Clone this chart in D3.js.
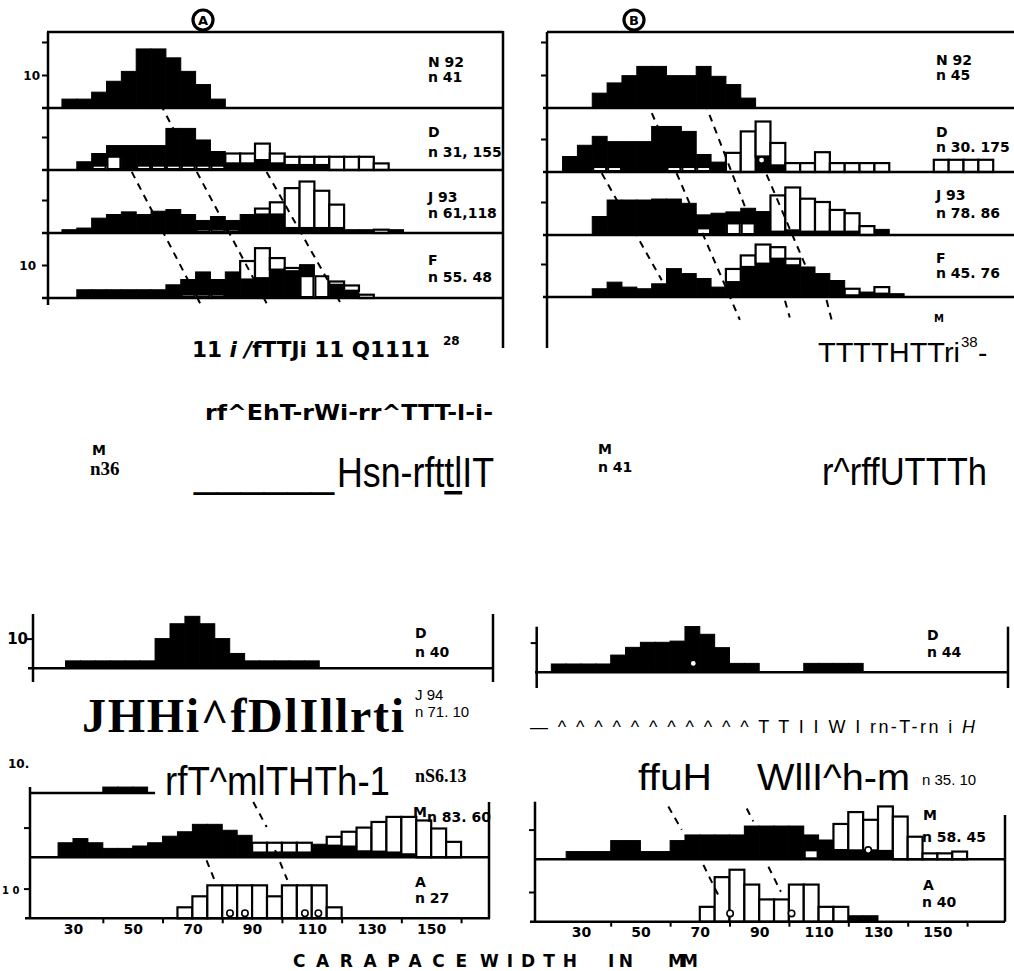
<!DOCTYPE html>
<html>
<head>
<meta charset="utf-8">
<title>Carapace width frequencies</title>
<script src="https://cdn.jsdelivr.net/npm/d3@7"></script>
<style>
  body { margin:0; background:#fff; }
  svg { display:block; }
  text { fill:#000; }
  .axis path { display:none; }
  .axis line { stroke:#000; stroke-width:2; }
  .axis text { font-family:"DejaVu Sans", "Liberation Sans", Arial, sans-serif; font-weight:bold; font-size:14px; fill:#000; }
</style>
</head>
<body>
<svg id="fig" width="1014" height="971"></svg>
<script>
// size classes, lower edge in mm (5 mm classes)
var binsTopA = [20,25,30,35,40,45,50,55,60,65,70,75,80,85,90,95,100,105,110,115,120,125,130];
var binsTopB = [20,25,30,35,40,45,50,55,60,65,70,75,80,85,90,95,100,105,110,115,120,125,130,135,140,145,150,155,160];
var binsBotA = [25,30,35,40,45,50,55,60,65,70,75,80,85,90,95,100,105,110,115,120,125,130,135,140,145,150,155];
var binsBotAD = [27.5,32.5,37.5,42.5,47.5,52.5,57.5,62.5,67.5,72.5,77.5,82.5,87.5,92.5,97.5,102.5,107.5];
var binsBotB = [20,25,30,35,40,45,50,55,60,65,70,75,80,85,90,95,100,105,110,115,120,125,130,135,140,145,150,155];

// percent of sample per class: black = older class, white = new class
// "under" = white part drawn below the black part
var topA_N92_black = [2.7,2.7,4.8,8.1,11.1,17.9,17.9,15.2,11.1,7.1,2.7,0,0,0,0,0,0,0,0,0,0,0,0];
var topA_D_under = [0,0,1.3,4,0,1.3,1.3,1.3,1.3,1.3,1.3,0,0,0,0,0,0,0,0,0,0,0,0];
var topA_D_black = [0,2.5,3.7,3.4,7.4,6.1,6.1,11.3,11.3,7.8,4.3,2,2,3,2,1.5,1.5,1.5,0,0,0,0,0];
var topA_D_white = [0,0,0,0,0,0,0,0,0,0,0,3,3,5,3,2.5,2.5,2.5,4,4,4,2,0];
var topA_J93_under = [0,0,0,0,0,0,0,0,0,1,1,1,0,0,0,0,0,0,0,0,0,0,0];
var topA_J93_black = [1,1.5,4.5,5.6,6.4,5.6,6.6,7.1,5.6,2.8,4,2.8,5.6,5.6,5.6,1.5,1.5,1.5,1.5,1,1,0,1];
var topA_J93_white = [0,0,0,0,0,0,0,0,0,0,0,0,0,1.8,3.7,12.1,14.1,11.3,7.1,0,0,1,0];
var topA_F_under = [0,0,0,0,0,0,0,0,1,1,1,0,0,0,0,0,6.6,6.6,0,0,0,0,0];
var topA_F_black = [0,2.5,2.5,2.5,2.5,2.5,2.5,4,4.6,6.9,4.6,7.9,5.6,6,8.6,8.1,3.5,0,4,2.2,0,0,0];
var topA_F_white = [0,0,0,0,0,0,0,0,0,0,0,0,5.6,9.1,3.5,1,0,0,1,1.6,1,0,0];

var topB_N92_black = [0,0,4.5,7.6,9.8,12.6,12.6,9.8,9.8,12.6,9.6,7.1,3,0,0,0,0,0,0,0,0,0,0,0,0,0,0,0,0];
var topB_D_under = [0,0,1.5,1.5,0,0,0,1.5,1.5,1.5,0,0,0,0,0,0,0,0,0,0,0,0,0,0,0,0,0,0,0];
var topB_D_black = [4.7,8.1,9.3,7.7,9.2,9.2,13.8,12.3,10.8,3.8,3,0,0,4.7,2,0,0,0,0,0,0,0,0,0,0,0,0,0,0];
var topB_D_white = [0,0,0,0,0,0,0,0,0,0,0,5.8,12.3,10.6,6.8,2.7,2.7,6,2.7,2.7,2.7,2.7,0,0,0,3.7,3.7,3.7,3.7];
var topB_J93_under = [0,0,0,0,0,0,0,0,0,2,0,3.5,3.5,0,0,0,0,0,0,0,0,0,0,0,0,0,0,0,0];
var topB_J93_black = [0,0,5.6,10.6,10.6,10.6,10.9,10.9,9.6,4.1,6.6,3.5,4.6,7.1,1,1.4,1,1,1,1,0,1.7,0,0,0,0,0,0,0];
var topB_J93_white = [0,0,0,0,0,0,0,0,0,0,0,0,0,0,11,13,10,9,6.6,5.6,2.7,0,0,0,0,0,0,0,0];
var topB_F_black = [0,0,2.5,4.5,3,2.5,4,8.6,7.1,5.6,3,4.5,9.1,10.1,11.6,9.6,9.1,7.1,5,0.5,1.5,1,1,0,0,0,0,0,0];
var topB_F_white = [0,0,0,0,0,0,0,0,0,0,0,4,3.5,5.8,3.5,2,0,0,0,2,0,2,0,0,0,0,0,0,0];

var botA_D_black = [2.5,2.5,2.5,2.5,2.5,2.5,10,15,17.5,15,10,5,2.5,2.5,2.5,2.5,2.5];
var botA_F_black = [0,0,0,2,2,2,0,0,0,0,0,0,0,0,0,0,0,0,0,0,0,0,0,0,0,0,0];
var botA_M_black = [4.9,6.3,4.9,3,3,3.8,4.9,7.1,8.6,11.1,11.1,9.1,7.4,1.6,1.6,1.6,1.6,4.4,3.9,3.6,2,1.9,1.6,1,0,0,0];
var botA_M_white = [0,0,0,0,0,0,0,0,0,0,0,0,0,3.3,3.3,3.3,3.3,0,3,5,8,10,12,12.6,12.4,9.7,5.2];
var botA_A_white = [0,0,0,0,0,0,0,0,3.7,7.4,11.1,11.1,11.1,11.1,7.4,11.1,11.1,11.1,3.7,0,0,0,0,0,0,0,0];

var botB_D_black = [2.8,2.8,2.8,2.8,5.8,8.4,10.1,10.1,10.5,15.4,12.8,8.3,3,3,0,0,0,3,3,3,3,0,0,0,0,0,0,0];
var botB_M_under = [0,0,0,0,0,0,0,0,0,0,0,0,0,0,0,0,0,3,0,0,0,0,0,0,0,0,0,0];
var botB_M_black = [0,2.6,2.6,2.6,6.3,6.3,2.6,2.6,6.3,8.2,8.2,8.2,8.2,11.2,11.2,11.2,11.2,5.2,6.5,3.1,3,3,2.8,0,0,0,0,0];
var botB_M_white = [0,0,0,0,0,0,0,0,0,0,0,0,0,0,0,0,0,0,0,8.8,12.9,10.3,15,14.4,7.6,2,2,2.6];
var botB_A_black = [0,0,0,0,0,0,0,0,0,0,0,0,0,0,0,0,0,0,0,0,2,2,0,0,0,0,0,0];
var botB_A_white = [0,0,0,0,0,0,0,0,0,0,5,15,17.5,12.5,7.5,7.5,12.5,12.5,5,5,0,0,0,0,0,0,0,0];

// small rings [mm, percent]
var ringsTopBD = [[87,3.6]];
var ringsBotBD = [[67.8,3]];
var ringsBotAA = [[82.6,1.7],[87.6,1.7],[107.7,1.7],[112.2,1.7]];
var ringsBotBM = [[126.7,3.1]];
var ringsBotBA = [[80.2,2.8],[100.9,2.8]];

// dashed cohort lines [mm1, row1, mm2, row2] (row = panel index from top)
var dashTopA = [[53.2,0.95,58.0,1.38],[43.5,2.03,66.5,4.08],[65.4,2.03,88.9,4.08],[88.9,2.03,113.6,4.06]];
var dashTopB = [[48.3,0.91,52.2,1.31],[67.9,0.93,81.4,2.55],[33.2,2.02,53.4,3.73],[58.4,2.02,79.7,4.37],[88.7,2.04,102.2,3.54],[94.9,4.06,96.5,4.33],[108.9,4.05,110.6,4.37]];
var dashBotA = [[90.4,0.14,94.9,0.53],[73.1,0.86,77.9,1.43],[97.7,0.89,101.8,1.37]];
var dashBotB = [[59.4,0.18,63.9,0.54],[85.8,0.21,88,0.41],[71.2,1.09,76.8,1.63],[93.1,1.12,97.3,1.52]];

// labels
var labTopA = ["N 92","n 41","D","n 31, 155","J 93","n 61,118","F","n 55. 48"];
var labTopB = ["N 92","n 45","D","n 30. 175","J 93","n 78. 86","F","n 45. 76"];
var labBotA = ["D","n 40","M","n 83. 60","A","n 27"];
var labBotB = ["D","n 44","M","n 58. 45","A","n 40"];
var xTickLabels = [30,50,70,90,110,130,150];
var xTickMarks = [40,60,80,100,120,140,160];
var axisWords = ["CARAPACE","WIDTH","IN","MM"];

var svg = d3.select("#fig");
var sans = '"Liberation Sans", Arial, sans-serif';
var narrow = '"Liberation Sans Narrow", "Liberation Sans", Arial, sans-serif';
var heavy = '"DejaVu Sans", "Liberation Sans", Arial, sans-serif';
var serif = '"Liberation Serif", "Times New Roman", serif';

function hline(g, x1, x2, y, w){
  g.append("line").attr("x1",x1).attr("x2",x2).attr("y1",y).attr("y2",y)
    .attr("stroke","#000").attr("stroke-width",w||2.5);
}
function vline(g, x, y1, y2, w){
  g.append("line").attr("x1",x).attr("x2",x).attr("y1",y1).attr("y2",y2)
    .attr("stroke","#000").attr("stroke-width",w||2.5);
}

function hist(g, x, bins, base, k, under, black, white){
  var y = d3.scaleLinear().domain([0,10]).range([base, base-10*k]);
  var rows = bins.map(function(b,i){
    return {x0:b, x1:b+5, u:under?under[i]:0, b:black?black[i]:0, w:white?white[i]:0};
  });
  g.selectAll(null).data(rows.filter(function(d){return d.b>0;})).enter().append("rect")
    .attr("x",function(d){return x(d.x0);})
    .attr("width",function(d){return x(d.x1)-x(d.x0);})
    .attr("y",function(d){return y(d.u+d.b);})
    .attr("height",function(d){return y(d.u)-y(d.u+d.b);})
    .attr("fill","#000").attr("stroke","#000").attr("stroke-width",1);
  g.selectAll(null).data(rows.filter(function(d){return d.u>0;})).enter().append("rect")
    .attr("x",function(d){return x(d.x0)+1;})
    .attr("width",function(d){return x(d.x1)-x(d.x0)-2;})
    .attr("y",function(d){return y(d.u);})
    .attr("height",function(d){return y(0)-y(d.u)-1;})
    .attr("fill","#fff").attr("stroke","#000").attr("stroke-width",2);
  g.selectAll(null).data(rows.filter(function(d){return d.w>0;})).enter().append("rect")
    .attr("x",function(d){return x(d.x0);})
    .attr("width",function(d){return x(d.x1)-x(d.x0);})
    .attr("y",function(d){return y(d.u+d.b+d.w);})
    .attr("height",function(d){return y(d.u+d.b)-y(d.u+d.b+d.w);})
    .attr("fill","#fff").attr("stroke","#000").attr("stroke-width",2.2);
  return y;
}

function rings(g, x, y, pts){
  g.selectAll(null).data(pts).enter().append("circle")
    .attr("cx",function(d){return x(d[0]);})
    .attr("cy",function(d){return y(d[1]);})
    .attr("r",3.2).attr("fill","#fff").attr("stroke","#000").attr("stroke-width",1.6);
}

function dashes(g, x, row, segs){
  g.selectAll(null).data(segs).enter().append("line")
    .attr("x1",function(d){return x(d[0]);}).attr("y1",function(d){return row(d[1]);})
    .attr("x2",function(d){return x(d[2]);}).attr("y2",function(d){return row(d[3]);})
    .attr("stroke","#000").attr("stroke-width",2).attr("stroke-dasharray","7,6");
}

function yTick(g, y, xLeft, vals){
  g.append("g").attr("class","axis").attr("transform","translate("+xLeft+",0)")
    .call(d3.axisLeft(y).tickValues(vals).tickSize(6).tickFormat(""));
}

function txt(x, y, s, size, opts){
  opts = opts || {};
  var t = svg.append("text").attr("x",x).attr("y",y)
    .attr("font-family",opts.family||sans).attr("font-size",size)
    .attr("font-weight",opts.weight||"normal").text(s);
  if(opts.len){ t.attr("textLength",opts.len).attr("lengthAdjust",opts.adj||"spacing"); }
  if(opts.italic){ t.attr("font-style","italic"); }
  return t;
}
function lab(x, y, s){ return txt(x, y, s, 14, {weight:"bold", family:heavy}); }

// ---------- block A, top (Nov 92 - Feb 93) ----------
var gTA = svg.append("g");
var xTA = d3.scaleLinear().domain([15.3,168.5]).range([48,503]);
var baseTA = [108,170,233,298];
var kTop = 3.3;
var yTA = [
  hist(gTA, xTA, binsTopA, baseTA[0], kTop, null, topA_N92_black, null),
  hist(gTA, xTA, binsTopA, baseTA[1], kTop, topA_D_under, topA_D_black, topA_D_white),
  hist(gTA, xTA, binsTopA, baseTA[2], kTop, topA_J93_under, topA_J93_black, topA_J93_white),
  hist(gTA, xTA, binsTopA, baseTA[3], kTop, topA_F_under, topA_F_black, topA_F_white)
];
hline(gTA, 47, 503, 32);
baseTA.forEach(function(b){ hline(gTA, 42, 503, b); });
vline(gTA, 48, 32, 305);
vline(gTA, 503, 31, 348);
yTick(gTA, yTA[0], 48, [10,20]);
yTick(gTA, yTA[1], 48, [10]);
yTick(gTA, yTA[2], 48, [10]);
yTick(gTA, yTA[3], 48, [10]);
txt(40, yTA[0](10)+5, "10", 12, {weight:"bold", family:heavy}).attr("text-anchor","end");
txt(36, yTA[3](10)+5, "10", 12, {weight:"bold", family:heavy}).attr("text-anchor","end");
dashes(gTA, xTA, d3.scaleLinear().domain([0,1,2,3,4]).range([32,108,170,233,298]), dashTopA);
var labYTop = [67,82,137,157,202,218,265,282];
labTopA.forEach(function(s,i){ lab(428, labYTop[i], s); });

// ---------- block B, top ----------
var gTB = svg.append("g");
var xTB = d3.scaleLinear().domain([15.2,172]).range([548.3,1014]);
var baseTB = [108,172,235,297];
var yTB = [
  hist(gTB, xTB, binsTopB, baseTB[0], kTop, null, topB_N92_black, null),
  hist(gTB, xTB, binsTopB, baseTB[1], kTop, topB_D_under, topB_D_black, topB_D_white),
  hist(gTB, xTB, binsTopB, baseTB[2], kTop, topB_J93_under, topB_J93_black, topB_J93_white),
  hist(gTB, xTB, binsTopB, baseTB[3], kTop, null, topB_F_black, topB_F_white)
];
rings(gTB, xTB, yTB[1], ringsTopBD);
hline(gTB, 547, 1014, 32);
baseTB.forEach(function(b){ hline(gTB, 543, 1014, b); });
vline(gTB, 547, 32, 348);
yTick(gTB, yTB[0], 547, [10,20]);
yTick(gTB, yTB[1], 547, [10]);
yTick(gTB, yTB[2], 547, [10]);
yTick(gTB, yTB[3], 547, [10]);
dashes(gTB, xTB, d3.scaleLinear().domain([0,1,2,3,4]).range([32,108,172,235,297]), dashTopB);
var labYTopB = [65,80,137,152,200,218,263,278];
labTopB.forEach(function(s,i){ lab(936, labYTopB[i], s); });
txt(934, 322, "M", 10, {weight:"bold", family:heavy});

// circled headings
[[203,"A"],[634,"B"]].forEach(function(c){
  svg.append("circle").attr("cx",c[0]).attr("cy",20).attr("r",10)
    .attr("fill","#fff").attr("stroke","#000").attr("stroke-width",3.2);
  txt(c[0], 25, c[1], 13, {weight:"bold", family:heavy}).attr("text-anchor","middle");
});

// ---------- block A, bottom (Dec 93 - Apr 94) ----------
var gBA = svg.append("g");
var xBA = d3.scaleLinear().domain([15.6,170]).range([30,490.9]);
var kBot = 2.97;
var yBAD = hist(gBA, xBA, binsBotAD, 668.3, kBot, null, botA_D_black, null);
hist(gBA, xBA, binsBotA, 793, kBot, null, botA_F_black, null);
var yBAM = hist(gBA, xBA, binsBotA, 857.3, kBot, null, botA_M_black, botA_M_white);
var yBAA = hist(gBA, xBA, binsBotA, 918.3, kBot, null, null, botA_A_white);
rings(gBA, xBA, yBAA, ringsBotAA);
hline(gBA, 28, 493, 668.3);
vline(gBA, 33, 614, 682);
vline(gBA, 493, 614, 682);
hline(gBA, 30, xBA(57.5), 793);
hline(gBA, 30, 489, 857.3);
hline(gBA, 25, 490, 918.3);
vline(gBA, 30, 787, 918.3);
vline(gBA, 489, 802, 918.3);
yTick(gBA, yBAD, 33, [10]);
yTick(gBA, yBAM, 30, [10]);
yTick(gBA, yBAA, 30, [10]);
txt(28, yBAD(10)+5, "10", 15, {weight:"bold", family:heavy}).attr("text-anchor","end");
txt(2, yBAA(10)+5, "1 0", 10, {weight:"bold", family:heavy});
dashes(gBA, xBA, d3.scaleLinear().domain([0,1,2]).range([793,857.3,918.3]), dashBotA);
gBA.append("g").attr("class","axis").attr("transform","translate(0,918.3)")
  .call(d3.axisBottom(xBA).tickValues(xTickMarks).tickSize(5).tickFormat(""));
gBA.append("g").attr("class","axis").attr("transform","translate(0,918.3)")
  .call(d3.axisBottom(xBA).tickValues(xTickLabels).tickSize(0).tickPadding(6));
var labPosBA = [[415,638],[415,657],[413,817],[427,822],[415,887],[415,903]];
labBotA.forEach(function(s,i){ lab(labPosBA[i][0], labPosBA[i][1], s); });

// ---------- block B, bottom ----------
var gBB = svg.append("g");
var xBB = d3.scaleLinear().domain([14,173]).range([533.5,1005.7]);
var yBBD = hist(gBB, xBB, binsBotB, 672.3, kBot, null, botB_D_black, null);
var yBBM = hist(gBB, xBB, binsBotB, 859.3, kBot, botB_M_under, botB_M_black, botB_M_white);
var yBBA = hist(gBB, xBB, binsBotB, 921.7, kBot, null, botB_A_black, botB_A_white);
rings(gBB, xBB, yBBD, ringsBotBD);
rings(gBB, xBB, yBBM, ringsBotBM);
rings(gBB, xBB, yBBA, ringsBotBA);
hline(gBB, 535, 1008, 672.3);
vline(gBB, 536.7, 626.7, 688);
vline(gBB, 1008, 626.7, 688);
hline(gBB, 535, 1005, 859.3);
hline(gBB, 530, 1005, 921.7);
vline(gBB, 535, 801.7, 921.7);
vline(gBB, 1005, 815, 921.7);
yTick(gBB, yBBD, 536.7, [10]);
yTick(gBB, yBBM, 535, [10]);
yTick(gBB, yBBA, 535, [10]);
dashes(gBB, xBB, d3.scaleLinear().domain([0,1,2]).range([795,859.3,921.7]), dashBotB);
gBB.append("g").attr("class","axis").attr("transform","translate(0,921.7)")
  .call(d3.axisBottom(xBB).tickValues(xTickMarks).tickSize(5).tickFormat(""));
gBB.append("g").attr("class","axis").attr("transform","translate(0,921.7)")
  .call(d3.axisBottom(xBB).tickValues(xTickLabels).tickSize(0).tickPadding(5));
var labPosBB = [[927,640],[927,657],[923,820],[922,842],[923,890],[922,907]];
labBotB.forEach(function(s,i){ lab(labPosBB[i][0], labPosBB[i][1], s); });

// ---------- axis title ----------
var wordPos = [[293,174],[480,97],[608,25],[668,30]];
axisWords.forEach(function(w,i){
  txt(wordPos[i][0], 966.7, w, 17, {weight:"bold", family:heavy, len:wordPos[i][1]});
});

// ---------- text layer of the scanned page ----------
var t1 = svg.append("text").attr("x",192).attr("y",357).attr("font-family",heavy)
  .attr("font-size",21).attr("font-weight","bold").attr("textLength",238).attr("lengthAdjust","spacingAndGlyphs");
t1.append("tspan").text("11 ");
t1.append("tspan").attr("font-style","italic").text("i /");
t1.append("tspan").text("fTTJi 11 Q1111");
txt(443, 345, "28", 12, {weight:"bold", family:heavy});
txt(205, 420, "rf^EhT-rWi-rr^TTT-l-i-", 21, {weight:"bold", family:heavy, len:288, adj:"spacingAndGlyphs"});
txt(92, 455, "M", 14, {weight:"bold", family:heavy});
txt(90, 475, "n36", 19, {weight:"bold", family:serif});
txt(194, 487, "______", 42);
var t2 = txt(337, 487, "Hsn-rfttlIT", 42, {family:narrow, len:157, adj:"spacingAndGlyphs"});
var p0 = t2.node().getStartPositionOfChar(7), p1 = t2.node().getEndPositionOfChar(8);
svg.append("rect").attr("x", p0.x).attr("y", 491).attr("width", p1.x - p0.x).attr("height", 3.5).attr("fill","#000");
txt(818, 362, "TTTTHTTri", 28, {family:narrow, len:142, adj:"spacingAndGlyphs"});
txt(961, 347, "38", 15, {family:narrow});
txt(978, 362, "-", 28);
txt(598, 454, "M", 14, {weight:"bold", family:heavy});
txt(598, 472, "n 41", 14, {weight:"bold", family:heavy});
txt(822, 485, "r^rffUTTTh", 39, {family:narrow, len:165, adj:"spacingAndGlyphs"});
txt(82, 732, "JHHi^fDlIllrti", 48, {weight:"bold", family:serif, len:322});
txt(415, 700, "J 94", 15);
txt(415, 717, "n 71. 10", 15);
txt(8, 768, "10.", 12, {weight:"bold", family:heavy});
txt(165, 795, "rfT^mlTHTh-1", 40, {family:narrow, len:225, adj:"spacingAndGlyphs"});
txt(415, 782, "nS6.13", 18, {weight:"bold", family:serif});
var t3 = txt(530, 733, "", 18, {len:445});
t3.append("tspan").text("— ^ ^ ^ ^ ^ ^ ^ ^ ^ ^ ^ T T I I W I rn-T-rn i ");
t3.append("tspan").attr("font-style","italic").text("H");
txt(638, 790, "ffuH", 36, {family:narrow, len:74, adj:"spacingAndGlyphs"});
txt(757, 790, "WllI^h-m", 36, {family:narrow, len:153, adj:"spacingAndGlyphs"});
txt(922, 785, "n 35. 10", 15);
</script>
</body>
</html>
